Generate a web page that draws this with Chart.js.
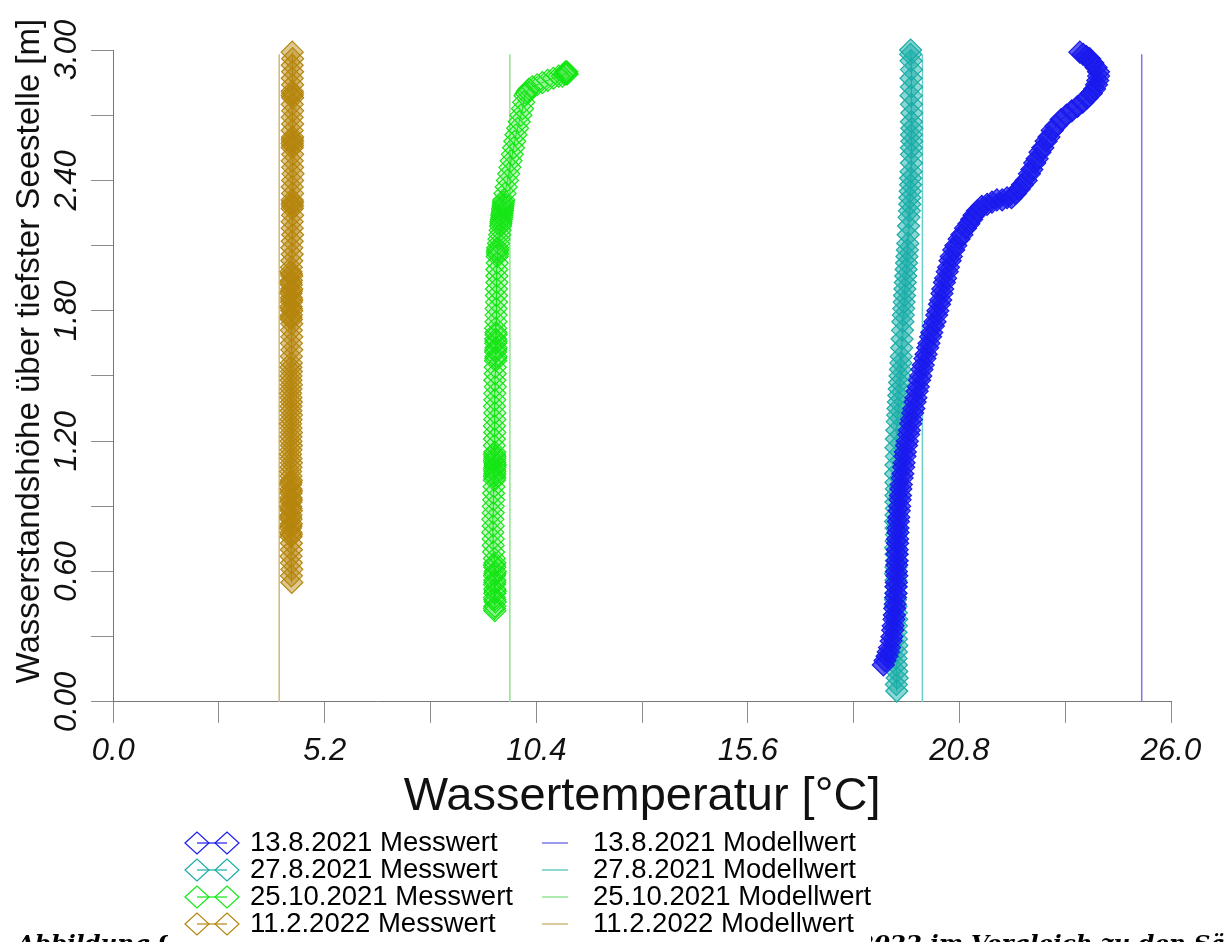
<!DOCTYPE html>
<html lang="de">
<head>
<meta charset="utf-8">
<title>Wassertemperaturprofile</title>
<script src="https://cdn.jsdelivr.net/npm/chart.js@4.4.1/dist/chart.umd.min.js"></script>
<style>
  html, body { margin: 0; padding: 0; background: #fff; overflow: hidden; }
  #wrap { position: relative; width: 1224px; height: 942px; }
  canvas { display: block; }
</style>
</head>
<body>
<div id="wrap"><canvas id="profile" width="1224" height="942"></canvas></div>
<script>
// Messtage
const profileDates = ['13.8.2021', '27.8.2021', '25.10.2021', '11.2.2022'];

// 13.8.2021 – gemessenes Profil (Höhe [m], Temperatur [°C])
const heightAug13 = [
  0.17, 0.19, 0.21, 0.23, 0.25, 0.28, 0.30, 0.33, 0.35, 0.38,
  0.40, 0.43, 0.45, 0.48, 0.50, 0.53, 0.55, 0.58, 0.60, 0.63,
  0.65, 0.68, 0.70, 0.73, 0.75, 0.78, 0.80, 0.83, 0.85, 0.88,
  0.90, 0.93, 0.95, 0.98, 1.00, 1.03, 1.05, 1.08, 1.10, 1.13,
  1.15, 1.18, 1.20, 1.23, 1.25, 1.28, 1.30, 1.33, 1.35, 1.38,
  1.40, 1.43, 1.45, 1.48, 1.50, 1.53, 1.55, 1.58, 1.60, 1.63,
  1.65, 1.68, 1.70, 1.73, 1.75, 1.78, 1.80, 1.83, 1.85, 1.88,
  1.90, 1.93, 1.95, 1.98, 2.00, 2.03, 2.05, 2.08, 2.10, 2.13,
  2.15, 2.18, 2.20, 2.22, 2.24, 2.26, 2.28, 2.29, 2.30, 2.31,
  2.31, 2.32, 2.32, 2.34, 2.36, 2.38, 2.40, 2.43, 2.45, 2.48,
  2.50, 2.53, 2.55, 2.58, 2.60, 2.63, 2.65, 2.68, 2.70, 2.72,
  2.74, 2.76, 2.78, 2.80, 2.82, 2.84, 2.86, 2.88, 2.90, 2.92,
  2.94, 2.96, 2.97, 2.98, 2.99
];
const tempAug13 = [
  18.93, 18.97, 19.02, 19.05, 19.08, 19.12, 19.14, 19.16, 19.17, 19.19,
  19.20, 19.21, 19.22, 19.23, 19.24, 19.24, 19.25, 19.26, 19.25, 19.26,
  19.27, 19.27, 19.27, 19.28, 19.28, 19.29, 19.29, 19.30, 19.31, 19.32,
  19.33, 19.34, 19.35, 19.36, 19.37, 19.39, 19.41, 19.43, 19.44, 19.46,
  19.47, 19.50, 19.52, 19.55, 19.57, 19.60, 19.62, 19.65, 19.68, 19.71,
  19.73, 19.76, 19.79, 19.82, 19.85, 19.88, 19.91, 19.95, 19.98, 20.02,
  20.05, 20.09, 20.12, 20.16, 20.20, 20.24, 20.27, 20.31, 20.34, 20.37,
  20.39, 20.43, 20.46, 20.50, 20.53, 20.57, 20.60, 20.66, 20.71, 20.79,
  20.86, 20.95, 21.03, 21.10, 21.16, 21.24, 21.35, 21.48, 21.60, 21.72,
  21.85, 21.97, 22.08, 22.18, 22.27, 22.35, 22.44, 22.52, 22.58, 22.65,
  22.71, 22.78, 22.85, 22.93, 23.00, 23.08, 23.17, 23.30, 23.43, 23.56,
  23.70, 23.83, 23.94, 24.04, 24.12, 24.17, 24.20, 24.22, 24.22, 24.16,
  24.08, 24.00, 23.92, 23.84, 23.76
];

// 27.8.2021
const heightAug27 = [
  0.05, 0.08, 0.11, 0.14, 0.17, 0.20, 0.23, 0.26, 0.29, 0.32,
  0.35, 0.38, 0.41, 0.44, 0.47, 0.50, 0.53, 0.56, 0.59, 0.62,
  0.65, 0.68, 0.71, 0.74, 0.77, 0.80, 0.83, 0.86, 0.89, 0.92,
  0.95, 0.98, 1.01, 1.05, 1.09, 1.13, 1.17, 1.21, 1.25, 1.29,
  1.32, 1.35, 1.38, 1.41, 1.44, 1.47, 1.50, 1.53, 1.56, 1.59,
  1.63, 1.67, 1.71, 1.75, 1.78, 1.81, 1.84, 1.87, 1.90, 1.93,
  1.96, 1.99, 2.02, 2.05, 2.08, 2.11, 2.15, 2.19, 2.23, 2.26,
  2.29, 2.32, 2.35, 2.38, 2.41, 2.44, 2.48, 2.52, 2.55, 2.58,
  2.61, 2.64, 2.67, 2.71, 2.75, 2.79, 2.83, 2.87, 2.91, 2.95,
  2.98, 3.00
];
const tempAug27 = [
  19.26, 19.25, 19.27, 19.26, 19.25, 19.24, 19.25, 19.26, 19.25, 19.24,
  19.25, 19.26, 19.25, 19.24, 19.23, 19.24, 19.25, 19.24, 19.23, 19.24,
  19.25, 19.24, 19.23, 19.24, 19.25, 19.24, 19.23, 19.24, 19.25, 19.24,
  19.24, 19.25, 19.24, 19.23, 19.24, 19.25, 19.24, 19.25, 19.26, 19.27,
  19.28, 19.29, 19.30, 19.31, 19.32, 19.33, 19.34, 19.35, 19.36, 19.37,
  19.38, 19.39, 19.40, 19.41, 19.42, 19.43, 19.44, 19.45, 19.46, 19.47,
  19.48, 19.49, 19.50, 19.51, 19.52, 19.53, 19.54, 19.55, 19.56, 19.57,
  19.58, 19.58, 19.59, 19.60, 19.60, 19.61, 19.62, 19.62, 19.62, 19.63,
  19.62, 19.63, 19.62, 19.63, 19.62, 19.61, 19.62, 19.61, 19.62, 19.61,
  19.60, 19.60
];

// 25.10.2021
const heightOct25 = [
  0.42, 0.43, 0.44, 0.46, 0.47, 0.48, 0.50, 0.51, 0.52, 0.54,
  0.55, 0.56, 0.58, 0.59, 0.60, 0.62, 0.63, 0.64, 0.66, 0.69,
  0.72, 0.75, 0.78, 0.81, 0.84, 0.87, 0.90, 0.93, 0.96, 0.99,
  1.02, 1.03, 1.04, 1.05, 1.06, 1.07, 1.08, 1.09, 1.10, 1.11,
  1.12, 1.13, 1.14, 1.15, 1.18, 1.21, 1.24, 1.27, 1.30, 1.33,
  1.36, 1.39, 1.42, 1.45, 1.48, 1.51, 1.54, 1.57, 1.58, 1.59,
  1.61, 1.62, 1.63, 1.65, 1.66, 1.67, 1.69, 1.70, 1.72, 1.75,
  1.78, 1.81, 1.84, 1.87, 1.90, 1.93, 1.96, 1.99, 2.02, 2.05,
  2.06, 2.07, 2.08, 2.09, 2.11, 2.13, 2.15, 2.17, 2.19, 2.20,
  2.21, 2.22, 2.23, 2.24, 2.25, 2.26, 2.27, 2.28, 2.29, 2.30,
  2.31, 2.34, 2.37, 2.40, 2.43, 2.46, 2.49, 2.52, 2.55, 2.58,
  2.61, 2.64, 2.67, 2.70, 2.73, 2.76, 2.79, 2.80, 2.81, 2.82,
  2.83, 2.84, 2.85, 2.86, 2.87, 2.88, 2.88, 2.89, 2.89, 2.90,
  2.90, 2.89
];
const tempOct25 = [
  9.38, 9.37, 9.38, 9.39, 9.38, 9.37, 9.38, 9.39, 9.38, 9.37,
  9.38, 9.38, 9.37, 9.38, 9.39, 9.38, 9.37, 9.38, 9.37, 9.35,
  9.34, 9.34, 9.33, 9.34, 9.33, 9.34, 9.34, 9.35, 9.35, 9.36,
  9.37, 9.38, 9.37, 9.38, 9.38, 9.37, 9.38, 9.39, 9.38, 9.37,
  9.38, 9.38, 9.37, 9.38, 9.37, 9.37, 9.38, 9.37, 9.38, 9.38,
  9.37, 9.38, 9.38, 9.39, 9.38, 9.39, 9.39, 9.40, 9.40, 9.41,
  9.40, 9.40, 9.41, 9.40, 9.41, 9.40, 9.41, 9.41, 9.40, 9.41,
  9.41, 9.41, 9.42, 9.42, 9.42, 9.43, 9.43, 9.43, 9.44, 9.44,
  9.45, 9.44, 9.45, 9.45, 9.47, 9.48, 9.50, 9.51, 9.52, 9.53,
  9.53, 9.54, 9.55, 9.55, 9.56, 9.57, 9.57, 9.58, 9.59, 9.59,
  9.60, 9.63, 9.66, 9.69, 9.72, 9.75, 9.78, 9.81, 9.84, 9.87,
  9.90, 9.94, 9.98, 10.02, 10.06, 10.09, 10.12, 10.15, 10.18, 10.22,
  10.30, 10.42, 10.55, 10.68, 10.82, 10.95, 11.04, 11.09, 11.13, 11.15,
  11.12, 11.16
];

// 11.2.2022
const heightFeb11 = [
  0.55, 0.58, 0.61, 0.64, 0.67, 0.70, 0.73, 0.76, 0.77, 0.78,
  0.80, 0.81, 0.82, 0.84, 0.85, 0.86, 0.88, 0.89, 0.90, 0.92,
  0.93, 0.94, 0.96, 0.97, 0.98, 1.00, 1.01, 1.02, 1.04, 1.06,
  1.08, 1.10, 1.12, 1.14, 1.16, 1.18, 1.20, 1.22, 1.24, 1.26,
  1.28, 1.30, 1.32, 1.34, 1.36, 1.38, 1.40, 1.42, 1.44, 1.46,
  1.48, 1.50, 1.52, 1.54, 1.56, 1.59, 1.62, 1.65, 1.68, 1.71,
  1.74, 1.76, 1.77, 1.78, 1.80, 1.81, 1.82, 1.84, 1.85, 1.86,
  1.88, 1.89, 1.90, 1.92, 1.93, 1.94, 1.96, 1.97, 1.98, 2.00,
  2.03, 2.06, 2.09, 2.12, 2.15, 2.18, 2.21, 2.24, 2.27, 2.28,
  2.29, 2.30, 2.31, 2.34, 2.37, 2.40, 2.43, 2.46, 2.49, 2.52,
  2.55, 2.56, 2.57, 2.58, 2.59, 2.60, 2.63, 2.66, 2.69, 2.72,
  2.75, 2.78, 2.79, 2.80, 2.81, 2.84, 2.87, 2.90, 2.93, 2.96,
  2.99
];
const tempFeb11 = [
  4.39, 4.38, 4.39, 4.38, 4.37, 4.38, 4.38, 4.37, 4.38, 4.37,
  4.36, 4.37, 4.38, 4.37, 4.36, 4.37, 4.38, 4.37, 4.36, 4.37,
  4.38, 4.37, 4.37, 4.38, 4.37, 4.36, 4.37, 4.38, 4.37, 4.36,
  4.37, 4.38, 4.37, 4.36, 4.37, 4.38, 4.37, 4.37, 4.38, 4.37,
  4.36, 4.37, 4.38, 4.37, 4.37, 4.38, 4.37, 4.36, 4.37, 4.38,
  4.37, 4.37, 4.38, 4.37, 4.38, 4.38, 4.39, 4.38, 4.39, 4.38,
  4.39, 4.38, 4.37, 4.38, 4.39, 4.38, 4.37, 4.38, 4.39, 4.38,
  4.37, 4.38, 4.39, 4.38, 4.37, 4.38, 4.39, 4.38, 4.37, 4.38,
  4.39, 4.40, 4.39, 4.40, 4.41, 4.40, 4.40, 4.41, 4.40, 4.41,
  4.40, 4.41, 4.40, 4.41, 4.40, 4.41, 4.42, 4.41, 4.40, 4.41,
  4.40, 4.41, 4.40, 4.41, 4.40, 4.41, 4.40, 4.41, 4.40, 4.41,
  4.40, 4.41, 4.40, 4.41, 4.40, 4.41, 4.40, 4.41, 4.40, 4.41,
  4.40
];

// Modellwerte: konstante Temperatur über die Wassersäule
const modelTemps = [25.28, 19.89, 9.75, 4.08];
const modelHeights = [0.00, 2.98];

// Achsen
const xTitle = 'Wassertemperatur [°C]';
const yTitle = '\u2002\u2002\u2002Wasserstandshöhe über tiefster Seestelle [m]';
const xRange = [0, 26];
const yRange = [0, 3];
const xTickStep = 2.6;
const yTickStep = 0.3;

// Bildunterschrift (unterer Rand)
const captionLeft = 'Abbildung 9';
const captionRight = '2022 im Vergleich zu den Sä';

// Farben
const measuredColors = ['#1a1aee', '#1aada8', '#14e614', '#b5860d'];
const measuredFill = ['rgba(26,26,238,0.70)', 'rgba(26,173,168,0.50)', 'rgba(20,230,20,0.18)', 'rgba(181,134,13,0.45)'];
const modelColors = ['#7a7ae2', '#6acdc7', '#93e393', '#cfb77e'];

const measuredHeights = [heightAug13, heightAug27, heightOct25, heightFeb11];
const measuredTemps = [tempAug13, tempAug27, tempOct25, tempFeb11];

const toPoints = (temps, heights) => temps.map((t, i) => ({ x: t, y: heights[i] }));

const datasets = [];
profileDates.forEach((d, i) => {
  datasets.push({
    label: d + ' Messwert',
    data: toPoints(measuredTemps[i], measuredHeights[i]),
    showLine: true,
    borderColor: measuredColors[i],
    borderWidth: 1,
    pointStyle: 'rectRot',
    pointRadius: 11,
    pointHoverRadius: 11,
    pointBorderWidth: 1.2,
    pointBorderColor: measuredColors[i],
    pointBackgroundColor: measuredFill[i],
    clip: false
  });
});
profileDates.forEach((d, i) => {
  datasets.push({
    label: d + ' Modellwert',
    data: modelHeights.map(h => ({ x: modelTemps[i], y: h })),
    showLine: true,
    borderColor: modelColors[i],
    borderWidth: 1.5,
    pointRadius: 0,
    pointHoverRadius: 0,
    clip: false
  });
});

// Legende in zwei Spalten plus Bildunterschrift
const figureLegend = {
  id: 'figureLegend',
  afterDraw(chart) {
    const ctx = chart.ctx;
    const sets = chart.data.datasets;
    ctx.save();
    ctx.fillStyle = '#000';
    ctx.font = 'italic bold 23px "DejaVu Serif"';
    ctx.textBaseline = 'alphabetic';
    ctx.textAlign = 'left';
    ctx.fillText(captionLeft, 17, 951);
    ctx.fillText(captionRight, 858, 951);

    ctx.fillStyle = '#fff';
    ctx.fillRect(168, 829, 703, 113);

    ctx.font = '27.5px "Liberation Sans"';
    ctx.textBaseline = 'middle';
    for (let r = 0; r < 4; r++) {
      const y = 843 + 27 * r;
      const mess = sets[r];
      const model = sets[r + 4];
      ctx.strokeStyle = mess.borderColor;
      ctx.lineWidth = 1.2;
      ctx.beginPath();
      ctx.moveTo(197, y);
      ctx.lineTo(227, y);
      ctx.stroke();
      [197, 227].forEach(cx => {
        ctx.beginPath();
        ctx.moveTo(cx - 12, y);
        ctx.lineTo(cx, y - 11);
        ctx.lineTo(cx + 12, y);
        ctx.lineTo(cx, y + 11);
        ctx.closePath();
        ctx.stroke();
      });
      ctx.fillStyle = '#000';
      ctx.fillText(mess.label, 250, y);

      ctx.strokeStyle = model.borderColor;
      ctx.lineWidth = 1.5;
      ctx.beginPath();
      ctx.moveTo(542, y);
      ctx.lineTo(568, y);
      ctx.stroke();
      ctx.fillText(model.label, 593, y);
    }
    ctx.restore();
  }
};

Chart.defaults.font.family = '"Liberation Sans", Arial, sans-serif';
Chart.defaults.color = '#111';

const tickFont = { family: '"Liberation Sans", Arial, sans-serif', size: 31, style: 'italic' };

new Chart(document.getElementById('profile'), {
  type: 'scatter',
  data: { datasets },
  plugins: [figureLegend],
  options: {
    responsive: false,
    animation: false,
    devicePixelRatio: 1,
    layout: { padding: { left: 13, right: 53, top: 50, bottom: 129 } },
    plugins: { legend: { display: false }, tooltip: { enabled: false } },
    scales: {
      x: {
        type: 'linear',
        position: 'bottom',
        min: xRange[0],
        max: xRange[1],
        ticks: {
          stepSize: xTickStep,
          autoSkip: false,
          maxRotation: 0,
          padding: 10,
          font: tickFont,
          color: '#111',
          callback: (v, i) => (i % 2 === 0 ? Number(v).toFixed(1) : '')
        },
        grid: { drawOnChartArea: false, drawTicks: true, tickLength: 21, color: '#8c8c8c', lineWidth: 1 },
        border: { display: true, color: '#777', width: 1 },
        title: {
          display: true,
          text: xTitle,
          color: '#111',
          font: { size: 47, lineHeight: 0.7 },
          padding: { top: 0, bottom: 0 }
        }
      },
      y: {
        type: 'linear',
        position: 'left',
        min: yRange[0],
        max: yRange[1],
        ticks: {
          stepSize: yTickStep,
          autoSkip: false,
          minRotation: 90,
          maxRotation: 90,
          crossAlign: 'center',
          padding: -6,
          font: tickFont,
          color: '#111',
          callback: (v, i) => (i % 2 === 0 ? Number(v).toFixed(2) : '')
        },
        grid: { drawOnChartArea: false, drawTicks: true, tickLength: 22, color: '#8c8c8c', lineWidth: 1 },
        border: { display: true, color: '#777', width: 1 },
        title: {
          display: true,
          text: yTitle,
          color: '#111',
          font: { size: 33, lineHeight: 1 },
          padding: { top: 0, bottom: 20 }
        }
      }
    }
  }
});
</script>
</body>
</html>
